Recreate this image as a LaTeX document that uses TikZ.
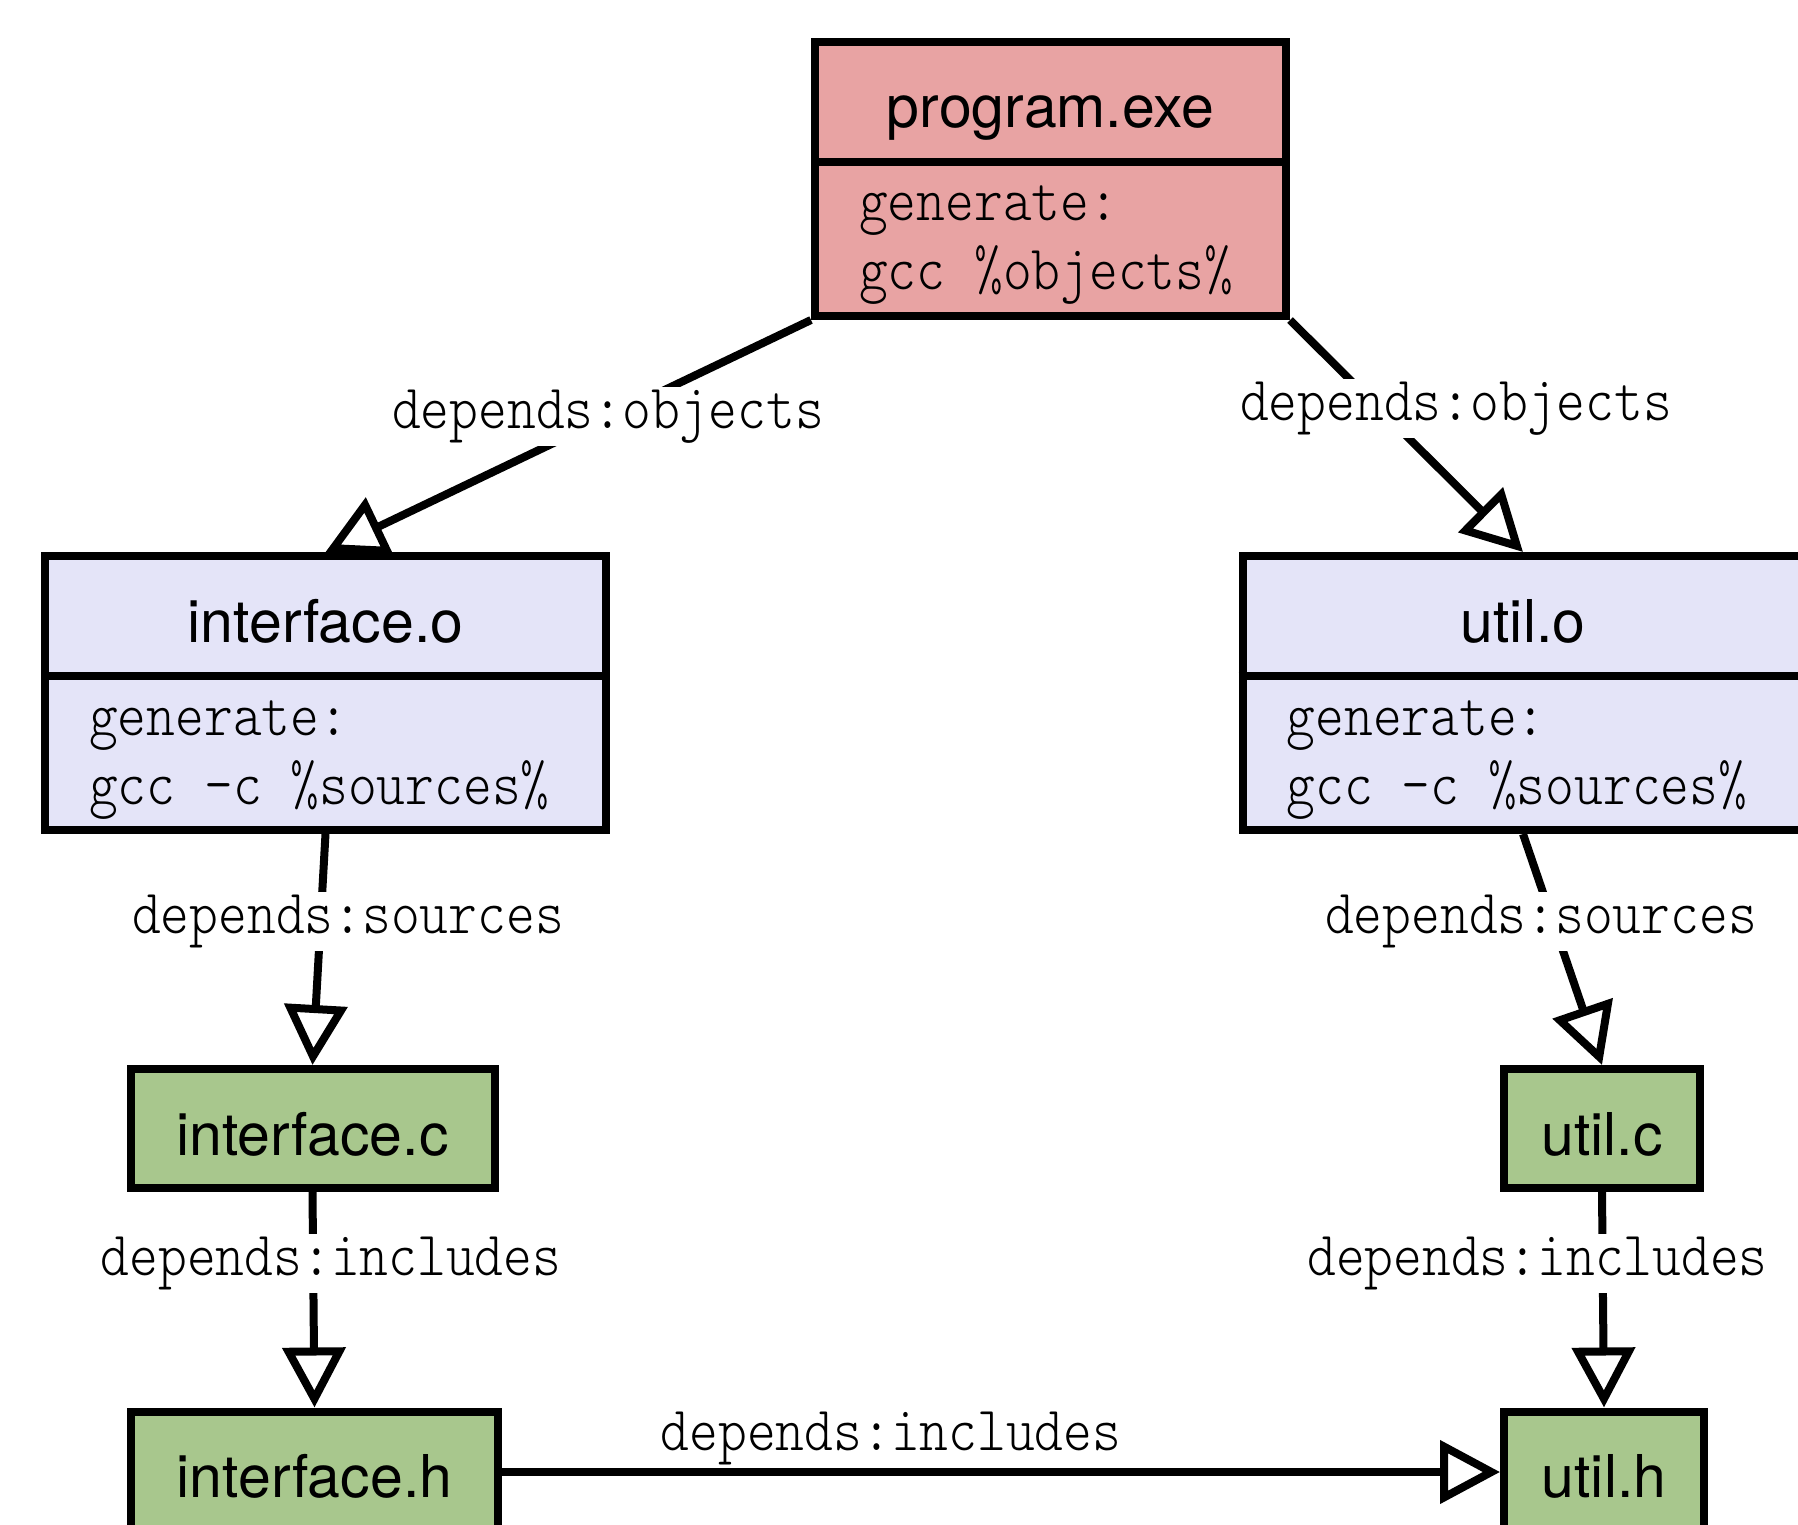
\documentclass[tikz,border=0pt]{standalone}
\usepackage{fontspec}
\setmainfont{TeX Gyre Heros}
\newfontfamily\codefont[Extension=.otf,FakeStretch=0.87]{lmmonolt10-regular}
\usetikzlibrary{arrows.meta,backgrounds}
\definecolor{exefill}{HTML}{E8A3A3}
\definecolor{objfill}{HTML}{E4E4F8}
\definecolor{srcfill}{HTML}{A8C78D}
\begin{document}
\begin{tikzpicture}[x=1pt, y=-1pt,
  box/.style={draw=black, line width=8pt, inner sep=0pt, rectangle},
  divider/.style={draw=black, line width=8pt},
  title/.style={font=\fontsize{59}{70}\selectfont, inner sep=0pt, anchor=base},
  cmd/.style={font=\codefont\fontsize{63}{70}\selectfont, inner sep=0pt, anchor=base west},
  deplabel/.style={font=\codefont\fontsize{63}{70}\selectfont, fill=white, inner sep=3pt, anchor=base},
  dep/.style={draw=black, line width=8pt, -{Triangle[open, length=60pt, width=62pt]}}
]
\path[use as bounding box] (0,0) rectangle (1798,1525);
\clip (0,0) rectangle (1798,1525);

% --- program.exe ---
\node[box, fill=exefill, minimum width=471pt, minimum height=274pt] (prog) at (1050.5,179) {};
\coordinate (progsplit) at (0,162);
\draw[divider] (prog.west |- progsplit) -- (prog.east |- progsplit);
\node[title] (progname) at (1050.5,128) {program.exe};
\node[cmd] (progcmdA) at (859,221) {generate:};
\node[cmd] (progcmdB) at (859,289) {gcc \%objects\%};

% --- interface.o ---
\node[box, fill=objfill, minimum width=561pt, minimum height=274pt] (io) at (325.5,693) {};
\coordinate (iosplit) at (0,676);
\draw[divider] (io.west |- iosplit) -- (io.east |- iosplit);
\node[title] (ioname) at (325.5,642) {interface.o};
\node[cmd] (iocmdA) at (89,735) {generate:};
\node[cmd] (iocmdB) at (89,804) {gcc -c \%sources\%};

% --- util.o ---
\node[box, fill=objfill, minimum width=561pt, minimum height=274pt] (uo) at (1523,693) {};
\coordinate (uosplit) at (0,676);
\draw[divider] (uo.west |- uosplit) -- (uo.east |- uosplit);
\node[title] (uoname) at (1523,642) {util.o};
\node[cmd] (uocmdA) at (1286.5,735) {generate:};
\node[cmd] (uocmdB) at (1286.5,804) {gcc -c \%sources\%};

% --- source files ---
\node[box, fill=srcfill, minimum width=364pt, minimum height=119pt] (ic) at (312.5,1128.5) {};
\node[title] (icname) at (312.5,1155) {interface.c};
\node[box, fill=srcfill, minimum width=196pt, minimum height=119pt] (uc) at (1602,1128.5) {};
\node[title] (ucname) at (1602,1155) {util.c};

% --- header files ---
\node[box, fill=srcfill, minimum width=367pt, minimum height=121pt] (ih) at (314.5,1472) {};
\node[title] (ihname) at (314.5,1497) {interface.h};
\node[box, fill=srcfill, minimum width=200pt, minimum height=121pt] (uh) at (1604,1472) {};
\node[title] (uhname) at (1604,1497) {util.h};

% --- dependency edges, kept under the boxes ---
\begin{scope}[on background layer]
  \fill[white] (0,0) rectangle (1798,1525);
  \draw[dep] (prog.south west) -- (io.north);
  \draw[dep] (prog.south east) -- (uo.north);
  \draw[dep] (io.south) -- (ic.north);
  \draw[dep] (uo.south) -- (uc.north);
  \draw[dep] (ic.south) -- (ih.north);
  \draw[dep] (uc.south) -- (uh.north);
  \draw[dep] (ih.east) -- (uh.west);
\end{scope}

% --- edge labels ---
\node[deplabel] (lblA) at (608,428) {depends:objects};
\node[deplabel] (lblB) at (1456,420) {depends:objects};
\node[deplabel] (lblC) at (348,933) {depends:sources};
\node[deplabel] (lblD) at (1541,933) {depends:sources};
\node[deplabel] (lblE) at (331,1275) {depends:includes};
\node[deplabel] (lblF) at (1537.5,1275) {depends:includes};
\node[deplabel, fill=none] (lblG) at (891,1450) {depends:includes};
\end{tikzpicture}
\end{document}
